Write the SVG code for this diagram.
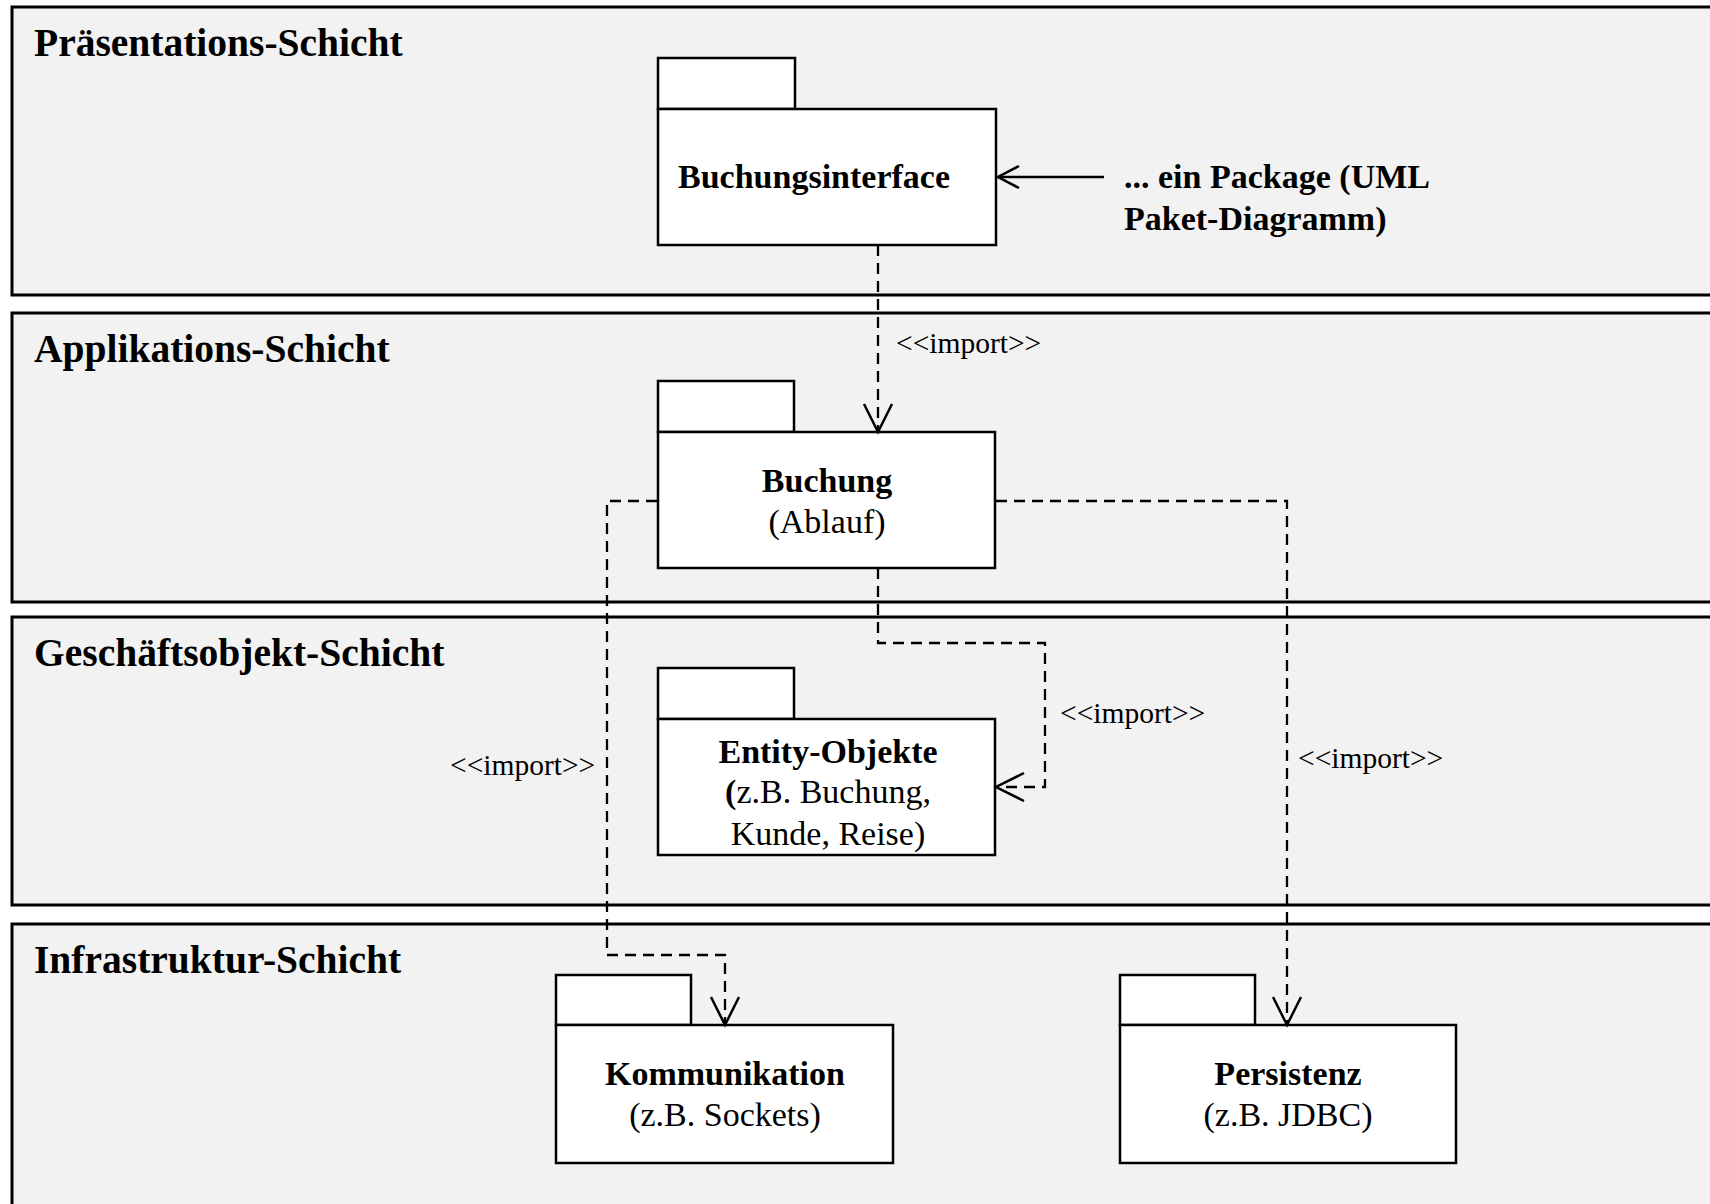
<svg xmlns="http://www.w3.org/2000/svg" width="1710" height="1204" viewBox="0 0 1710 1204">
<style>
.layer{fill:#f2f2f2;stroke:#000;stroke-width:3}
.title{font-family:"Liberation Serif",serif;font-weight:bold;font-size:39.5px;fill:#000}
.pkg{fill:#fff;stroke:#000;stroke-width:2.5}
.b{font-family:"Liberation Serif",serif;font-weight:bold;font-size:34px;fill:#000;text-anchor:middle}
.r{font-family:"Liberation Serif",serif;font-size:34px;fill:#000;text-anchor:middle}
.lbl{font-family:"Liberation Serif",serif;font-size:29.5px;fill:#000}
.dep{fill:none;stroke:#000;stroke-width:2.3;stroke-dasharray:11 7;marker-end:url(#open)}
.note{font-family:"Liberation Serif",serif;font-weight:bold;font-size:34px;fill:#000}
</style>
<defs>
<marker id="open" markerUnits="userSpaceOnUse" markerWidth="40" markerHeight="40" viewBox="-32 -20 40 40" refX="0" refY="0" orient="auto">
<path d="M -28 -14 L 0 0 L -28 14" fill="none" stroke="#000" stroke-width="2.5"/>
</marker>
<marker id="open2" markerUnits="userSpaceOnUse" markerWidth="40" markerHeight="40" viewBox="-32 -20 40 40" refX="0" refY="0" orient="auto">
<path d="M -21 -11 L 0 0 L -21 11" fill="none" stroke="#000" stroke-width="2.5"/>
</marker>
</defs>
<rect width="1710" height="1204" fill="#fff"/>
<g id="layer-praesentation">
<rect class="layer" x="12" y="7" width="1720" height="288"/>
<text class="title" x="34" y="56">Präsentations-Schicht</text>
</g>
<g id="layer-applikation">
<rect class="layer" x="12" y="313" width="1720" height="289"/>
<text class="title" x="34" y="362">Applikations-Schicht</text>
</g>
<g id="layer-geschaeftsobjekt">
<rect class="layer" x="12" y="617" width="1720" height="288"/>
<text class="title" x="34" y="666">Geschäftsobjekt-Schicht</text>
</g>
<g id="layer-infrastruktur">
<rect class="layer" x="12" y="924" width="1720" height="300"/>
<text class="title" x="34" y="973">Infrastruktur-Schicht</text>
</g>
<g id="pkg-buchungsinterface">
<rect class="pkg" x="658" y="58" width="137" height="51"/>
<rect class="pkg" x="658" y="109" width="338" height="136"/>
<text class="b" x="814" y="188">Buchungsinterface</text>
</g>
<g id="pkg-buchung">
<rect class="pkg" x="658" y="381" width="136" height="51"/>
<rect class="pkg" x="658" y="432" width="337" height="136"/>
<text class="b" x="827" y="492">Buchung</text>
<text class="r" x="827" y="533">(Ablauf)</text>
</g>
<g id="pkg-entity">
<rect class="pkg" x="658" y="668" width="136" height="51"/>
<rect class="pkg" x="658" y="719" width="337" height="136"/>
<text class="b" x="828" y="763">Entity-Objekte</text>
<text class="r" x="828" y="803"><tspan font-weight="bold">(</tspan>z.B. Buchung,</text>
<text class="r" x="828" y="845">Kunde, Reise)</text>
</g>
<g id="pkg-kommunikation">
<rect class="pkg" x="556" y="975" width="135" height="50"/>
<rect class="pkg" x="556" y="1025" width="337" height="138"/>
<text class="b" x="725" y="1085">Kommunikation</text>
<text class="r" x="725" y="1126">(z.B. Sockets)</text>
</g>
<g id="pkg-persistenz">
<rect class="pkg" x="1120" y="975" width="135" height="50"/>
<rect class="pkg" x="1120" y="1025" width="336" height="138"/>
<text class="b" x="1288" y="1085">Persistenz</text>
<text class="r" x="1288" y="1126">(z.B. JDBC)</text>
</g>
<g id="note">
<text class="note" x="1124" y="188">... ein Package (UML</text>
<text class="note" x="1124" y="230">Paket-Diagramm)</text>
</g>
<g id="connectors">
<line x1="1104" y1="177" x2="998" y2="177" stroke="#000" stroke-width="2.5" marker-end="url(#open2)"/>
<path class="dep" d="M 878 245 L 878 432"/>
<text class="lbl" x="896" y="353">&lt;&lt;import&gt;&gt;</text>
<path class="dep" d="M 878 568 L 878 643 L 1045 643 L 1045 787 L 996 787"/>
<text class="lbl" x="1060" y="723">&lt;&lt;import&gt;&gt;</text>
<path class="dep" d="M 657 501 L 607 501 L 607 955 L 725 955 L 725 1025"/>
<text class="lbl" x="450" y="775">&lt;&lt;import&gt;&gt;</text>
<path class="dep" d="M 996 501 L 1287 501 L 1287 1025"/>
<text class="lbl" x="1298" y="768">&lt;&lt;import&gt;&gt;</text>
</g>
</svg>
